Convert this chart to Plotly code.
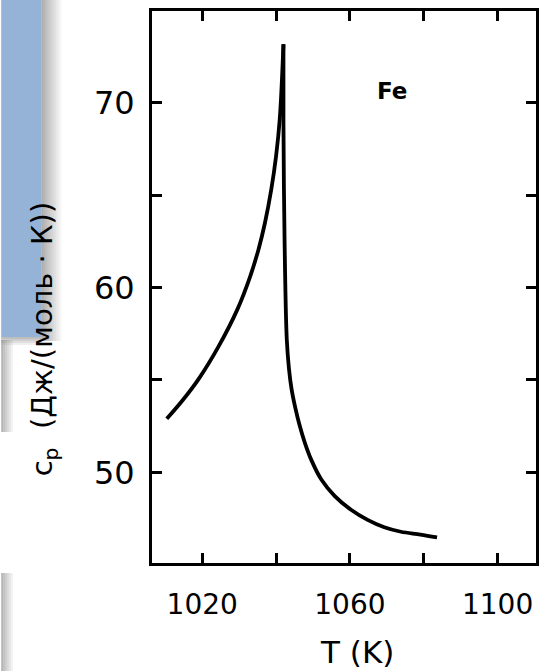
import plotly.graph_objects as go

# ---- data ----
T_left = [1010.4, 1014.7, 1019.2, 1024.4, 1029.5, 1033.0, 1035.3, 1037.0, 1038.7, 1040.0, 1041.0, 1042.0]
cp_left = [52.9, 53.9, 55.1, 56.8, 58.8, 60.6, 62.1, 63.5, 65.3, 67.1, 69.1, 73.15]
T_right = [1042.0, 1042.0, 1042.3, 1042.9, 1043.5, 1044.2, 1045.2, 1046.3, 1047.8, 1049.6, 1052.3,
           1055.9, 1060.3, 1064.8, 1069.3, 1073.8, 1079.1, 1083.6]
cp_right = [73.15, 69.0, 62.64, 57.2, 55.6, 54.5, 53.5, 52.6, 51.6, 50.65, 49.6,
            48.72, 47.98, 47.43, 47.03, 46.79, 46.64, 46.49]

x_major = [1020, 1060, 1100]
x_minor = [1040, 1080]
x_ticktext = ["1020", "1060", "1100"]
y_major = [50, 60, 70]
y_minor = [55, 65]
y_ticktext = ["50", "60", "70"]

W, H = 541, 671
ML, MR, MT, MB = 152, 2, 11, 108
PW, PH = W - ML - MR, H - MT - MB


def px(x):
    return (x - ML) / PW


def py(y):
    return (H - MB - y) / PH


fig = go.Figure()
fig.add_trace(go.Scatter(x=T_left, y=cp_left, mode="lines",
                         line=dict(color="black", width=3.8, shape="spline", smoothing=1.0),
                         showlegend=False, hoverinfo="skip"))
fig.add_trace(go.Scatter(x=T_right, y=cp_right, mode="lines",
                         line=dict(color="black", width=3.8, shape="spline", smoothing=1.0),
                         showlegend=False, hoverinfo="skip"))

axis_common = dict(showline=True, linewidth=3, linecolor="black", mirror="ticks",
                   ticks="inside", ticklen=10, tickwidth=2.5, tickcolor="black",
                   showgrid=False, zeroline=False)
minor_common = dict(ticks="inside", ticklen=10, tickwidth=2.5, tickcolor="black", showgrid=False)

fig.update_xaxes(range=[1006.4, 1110.4], tickvals=x_major, ticktext=x_ticktext,
                 minor=dict(tickvals=x_minor, **minor_common),
                 tickfont=dict(family="DejaVu Sans", size=28, color="black"),
                 ticklabelstandoff=14, **axis_common)
fig.update_yaxes(range=[45.1, 74.95], tickvals=y_major, ticktext=y_ticktext,
                 minor=dict(tickvals=y_minor, **minor_common),
                 tickfont=dict(family="DejaVu Sans", size=32, color="black"),
                 ticklabelstandoff=8, **axis_common)

annotations = [
    dict(x=1071.5, y=70.6, xref="x", yref="y", text="<b>Fe</b>", showarrow=False,
         font=dict(family="DejaVu Sans", size=23, color="black")),
    dict(x=px(359), y=py(652), xref="paper", yref="paper", text="T (K)", showarrow=False,
         xanchor="center", yanchor="middle",
         font=dict(family="DejaVu Sans", size=31, color="black")),
    dict(x=px(43), y=py(478), xref="paper", yref="paper",
         text="c<sub>p</sub>  (Дж/(моль · К))", showarrow=False, textangle=-90,
         xanchor="center", yanchor="bottom",
         font=dict(family="DejaVu Sans", size=29, color="black")),
]

shapes = []
# shadow of the blue box (gradient to the right and below)
for i in range(10):
    op = 0.55 * (1 - i / 10)
    shapes.append(dict(type="rect", xref="paper", yref="paper", layer="above",
                       x0=px(41 + 2 * i), x1=px(43 + 2 * i), y0=py(341), y1=py(0),
                       fillcolor="rgb(110,110,110)", opacity=op, line=dict(width=0)))
for i in range(4):
    op = 0.45 * (1 - i / 4)
    shapes.append(dict(type="rect", xref="paper", yref="paper", layer="above",
                       x0=px(0), x1=px(41), y0=py(337 + 2 * i + 2), y1=py(337 + 2 * i),
                       fillcolor="rgb(110,110,110)", opacity=op, line=dict(width=0)))
# blue box
shapes.append(dict(type="rect", xref="paper", yref="paper", layer="above",
                   x0=px(0), x1=px(41), y0=py(337), y1=py(0),
                   fillcolor="#95B3D7", line=dict(width=0)))
# shadows of other boxes at the left edge
for (ya, yb) in [(340, 432), (573, 671)]:
    for i in range(6):
        op = 0.5 * (1 - i / 6)
        shapes.append(dict(type="rect", xref="paper", yref="paper", layer="above",
                           x0=px(2 * i), x1=px(2 * i + 2), y0=py(yb), y1=py(ya),
                           fillcolor="rgb(110,110,110)", opacity=op, line=dict(width=0)))

fig.update_layout(width=W, height=H, margin=dict(l=ML, r=MR, t=MT, b=MB),
                  paper_bgcolor="white", plot_bgcolor="white",
                  annotations=annotations, shapes=shapes)

fig.write_html("out.html", config={"displayModeBar": False},
               post_script="document.body.style.margin='0';")
